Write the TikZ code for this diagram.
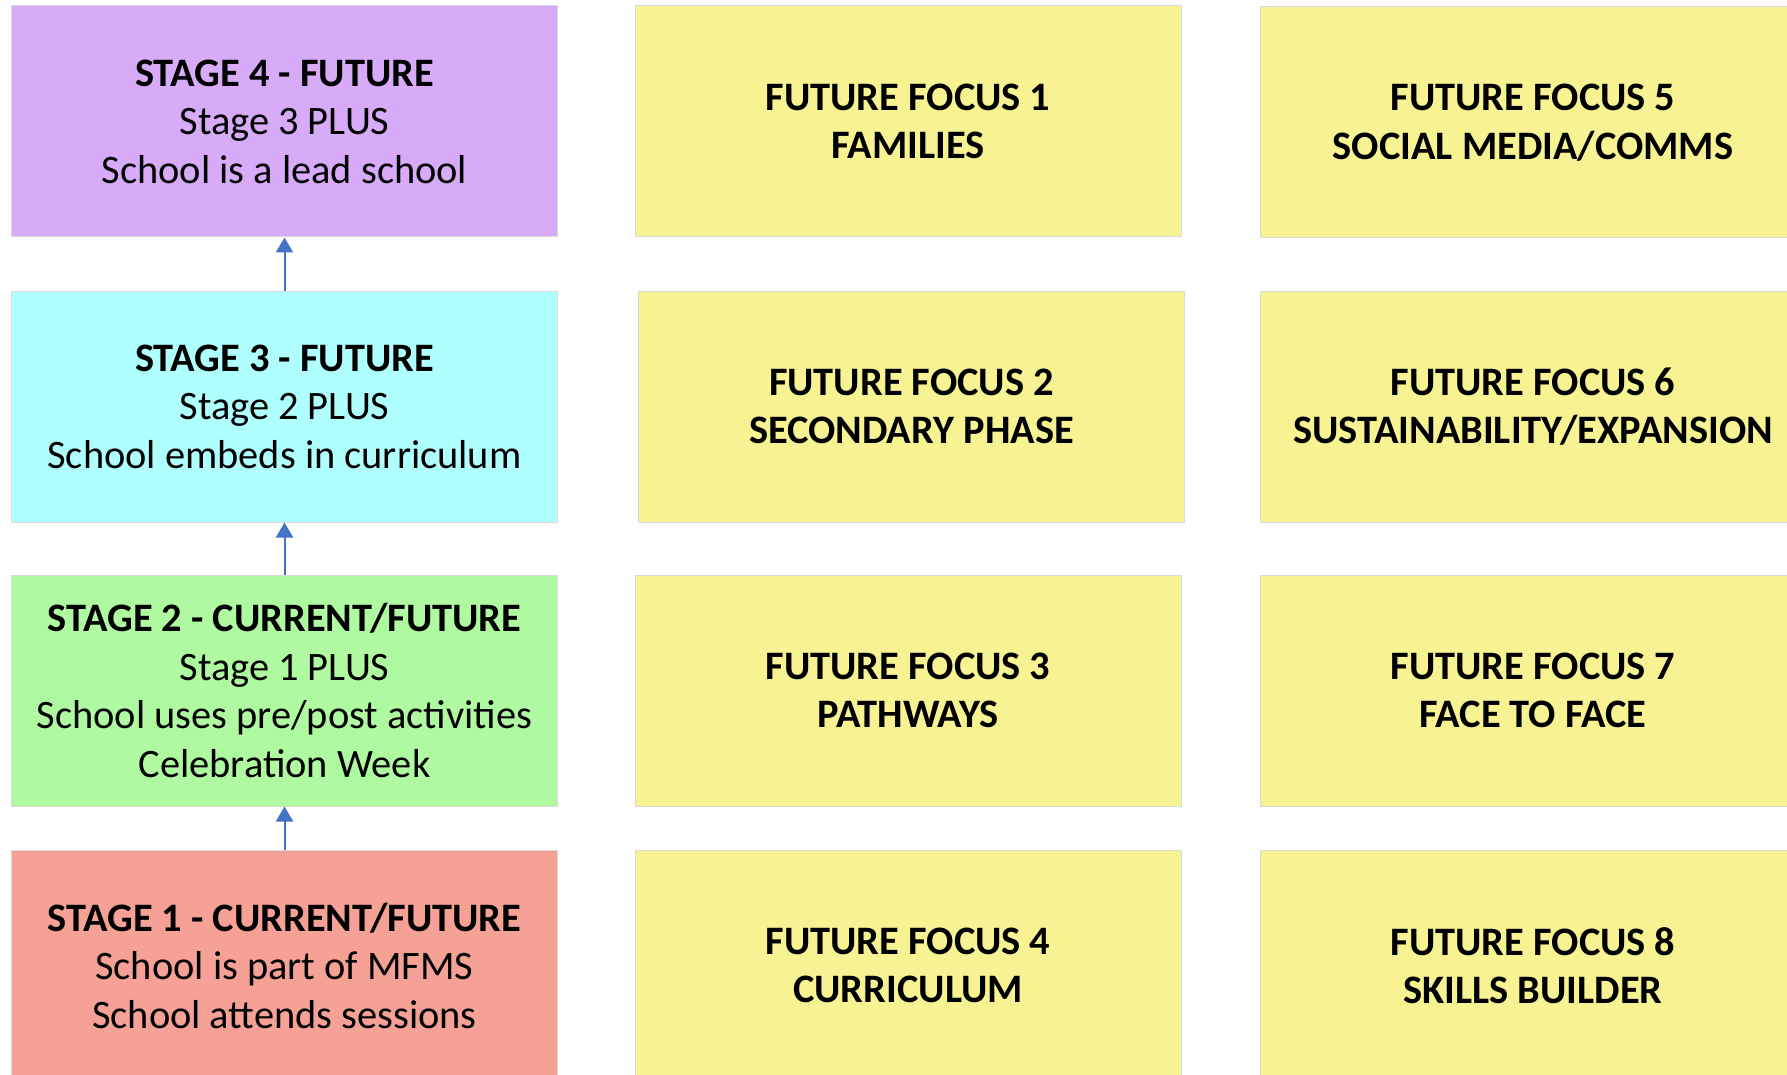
\documentclass[tikz,border=0pt]{standalone}
\usepackage{fontspec}
\setmainfont{Carlito}
\usetikzlibrary{arrows.meta}

\definecolor{stagefour}{RGB}{216,171,248}
\definecolor{stagethree}{RGB}{175,255,255}
\definecolor{stagetwo}{RGB}{175,250,160}
\definecolor{stageone}{RGB}{245,161,149}
\definecolor{focusyellow}{RGB}{247,243,147}
\definecolor{arrowblue}{RGB}{68,114,196}

\begin{document}
\begin{tikzpicture}[x=0.5pt,y=-0.5pt,
  stagebox/.style={draw=black!15,line width=0.5pt,minimum width=273pt,
    minimum height=115.5pt,inner sep=0pt,align=center,
    font=\fontsize{20.2}{24.25}\selectfont},
  focusbox/.style={stagebox,fill=focusyellow,
    font=\fontsize{20.2}{24.25}\selectfont\bfseries},
  uparrow/.style={draw=arrowblue,line width=1pt,
    -{Triangle[width=8.5pt,length=7.5pt]}}]
  \clip (0,0) rectangle (1787,1075);

  % Stages
  \node[stagebox,fill=stagefour] (stage4) at (284.5,121.5)
    {\textbf{STAGE 4 - FUTURE}\\Stage 3 PLUS\\School is a lead school};
  \node[stagebox,fill=stagethree] (stage3) at (284.5,406.5)
    {\textbf{STAGE 3 - FUTURE}\\Stage 2 PLUS\\School embeds in curriculum};
  \node[stagebox,fill=stagetwo] (stage2) at (284.5,690.5)
    {\textbf{STAGE 2 - CURRENT/FUTURE}\\Stage 1 PLUS\\School uses pre/post activities\\Celebration Week};
  \node[stagebox,fill=stageone] (stage1) at (284.5,965.5)
    {\textbf{STAGE 1 - CURRENT/FUTURE}\\School is part of MFMS\\School attends sessions};

  % Arrows up the stages
  \draw[uparrow] (stage1) -- (stage2);
  \draw[uparrow] (stage2) -- (stage3);
  \draw[uparrow] (stage3) -- (stage4);

  % Future focus, middle column
  \node[focusbox] (focus1) at (908,121.5) {FUTURE FOCUS 1\\FAMILIES};
  \node[focusbox] (focus2) at (911.5,406.5) {FUTURE FOCUS 2\\SECONDARY PHASE};
  \node[focusbox] (focus3) at (908,690.5) {FUTURE FOCUS 3\\PATHWAYS};
  \node[focusbox] (focus4) at (908,965.5) {FUTURE FOCUS 4\\CURRICULUM};

  % Future focus, right column
  \node[focusbox] (focus5) at (1533,122.5) {FUTURE FOCUS 5\\SOCIAL MEDIA/COMMS};
  \node[focusbox] (focus6) at (1533,406.5) {FUTURE FOCUS 6\\SUSTAINABILITY/EXPANSION};
  \node[focusbox] (focus7) at (1533,690.5) {FUTURE FOCUS 7\\FACE TO FACE};
  \node[focusbox] (focus8) at (1533,965.5) {FUTURE FOCUS 8\\SKILLS BUILDER};
\end{tikzpicture}
\end{document}
